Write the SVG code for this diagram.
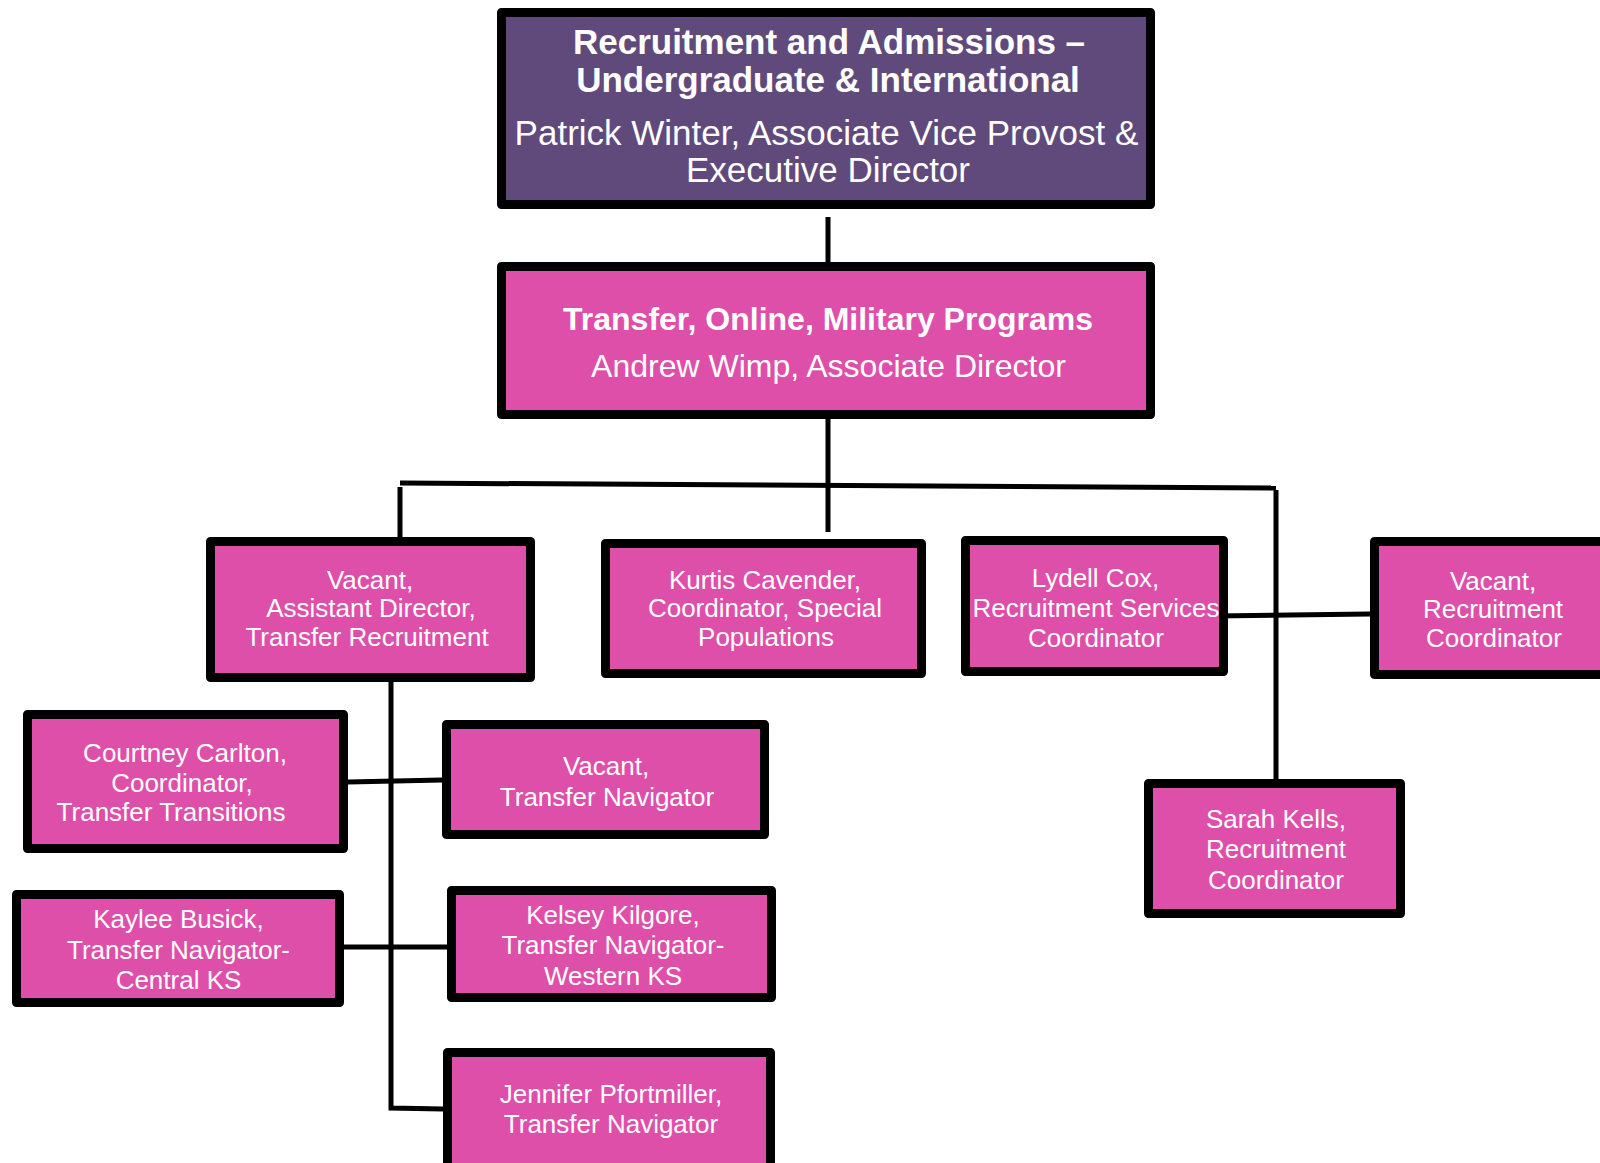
<svg xmlns="http://www.w3.org/2000/svg" width="1600" height="1163" viewBox="0 0 1600 1163">
<style>
.box{stroke:#000;stroke-width:9;stroke-linejoin:round}
.purple{fill:#604A7B}
.pink{fill:#DE4FA9}
.t{font-family:"Liberation Sans",Arial,sans-serif;fill:#fff;text-anchor:middle}
.big{font-size:35px}
.mid{font-size:32px}
.sm{font-size:26px}
.b{font-weight:bold}
.conn{stroke:#000;stroke-width:5;fill:none;stroke-linecap:butt}
</style>
<rect width="1600" height="1163" fill="#fff"/>
<g id="connectors">
<line class="conn" x1="828" y1="217" x2="828" y2="263"/>
<line class="conn" x1="828" y1="419" x2="828" y2="532"/>
<line class="conn" x1="400" y1="483" x2="1276" y2="488"/>
<line class="conn" x1="400" y1="487" x2="400" y2="537"/>
<line class="conn" x1="1276" y1="490" x2="1276" y2="779"/>
<polyline class="conn" points="391,682 391,1108 443,1109"/>
<line class="conn" x1="348" y1="782" x2="442" y2="780"/>
<line class="conn" x1="344" y1="947" x2="447" y2="947"/>
<polyline class="conn" points="1217,611 1217,616 1370,614"/>
</g>
<g id="n-top">
<rect class="box purple" x="501.5" y="12.5" width="649" height="192"/>
<text class="t big b" x="829" y="54">Recruitment and Admissions –</text>
<text class="t big b" x="828" y="92">Undergraduate &amp; International</text>
<text class="t big" x="826.5" y="145">Patrick Winter, Associate Vice Provost &amp;</text>
<text class="t big" x="828" y="182">Executive Director</text>
</g>
<g id="n-transfer">
<rect class="box pink" x="501.5" y="266.5" width="649" height="148"/>
<text class="t mid b" x="828" y="330">Transfer, Online, Military Programs</text>
<text class="t mid" x="828.5" y="377">Andrew Wimp, Associate Director</text>
</g>
<g id="n-vacant-ad">
<rect class="box pink" x="210.5" y="541.5" width="320" height="136"/>
<text class="t sm" x="370" y="589">Vacant,</text>
<text class="t sm" x="371" y="617">Assistant Director,</text>
<text class="t sm" x="367" y="646">Transfer Recruitment</text>
</g>
<g id="n-kurtis">
<rect class="box pink" x="605.5" y="543.5" width="316" height="130"/>
<text class="t sm" x="765" y="589">Kurtis Cavender,</text>
<text class="t sm" x="765" y="617">Coordinator, Special</text>
<text class="t sm" x="766" y="646">Populations</text>
</g>
<g id="n-lydell">
<rect class="box pink" x="965.5" y="540.5" width="258" height="131"/>
<text class="t sm" x="1095.5" y="587">Lydell Cox,</text>
<text class="t sm" x="1096" y="617">Recruitment Services</text>
<text class="t sm" x="1096" y="647">Coordinator</text>
</g>
<g id="n-vacant-rc">
<rect class="box pink" x="1374.5" y="541.5" width="240" height="133"/>
<text class="t sm" x="1493" y="590">Vacant,</text>
<text class="t sm" x="1493" y="618">Recruitment</text>
<text class="t sm" x="1494" y="647">Coordinator</text>
</g>
<g id="n-sarah">
<rect class="box pink" x="1148.5" y="783.5" width="252" height="130"/>
<text class="t sm" x="1276" y="828">Sarah Kells,</text>
<text class="t sm" x="1276" y="858">Recruitment</text>
<text class="t sm" x="1276" y="889">Coordinator</text>
</g>
<g id="n-courtney">
<rect class="box pink" x="27.5" y="714.5" width="316" height="134"/>
<text class="t sm" x="185" y="762">Courtney Carlton,</text>
<text class="t sm" x="182" y="792">Coordinator,</text>
<text class="t sm" x="171" y="821">Transfer Transitions</text>
</g>
<g id="n-vacant-tn">
<rect class="box pink" x="446.5" y="724.5" width="318" height="110"/>
<text class="t sm" x="606" y="775">Vacant,</text>
<text class="t sm" x="607" y="806">Transfer Navigator</text>
</g>
<g id="n-kaylee">
<rect class="box pink" x="16.5" y="894.5" width="323" height="108"/>
<text class="t sm" x="178.5" y="928">Kaylee Busick,</text>
<text class="t sm" x="178.5" y="959">Transfer Navigator-</text>
<text class="t sm" x="178.5" y="989">Central KS</text>
</g>
<g id="n-kelsey">
<rect class="box pink" x="451.5" y="890.5" width="320" height="107"/>
<text class="t sm" x="613" y="924">Kelsey Kilgore,</text>
<text class="t sm" x="613" y="954">Transfer Navigator-</text>
<text class="t sm" x="613" y="985">Western KS</text>
</g>
<g id="n-jennifer">
<rect class="box pink" x="447.5" y="1052.5" width="323" height="120"/>
<text class="t sm" x="611" y="1103">Jennifer Pfortmiller,</text>
<text class="t sm" x="611" y="1133">Transfer Navigator</text>
</g>
</svg>
